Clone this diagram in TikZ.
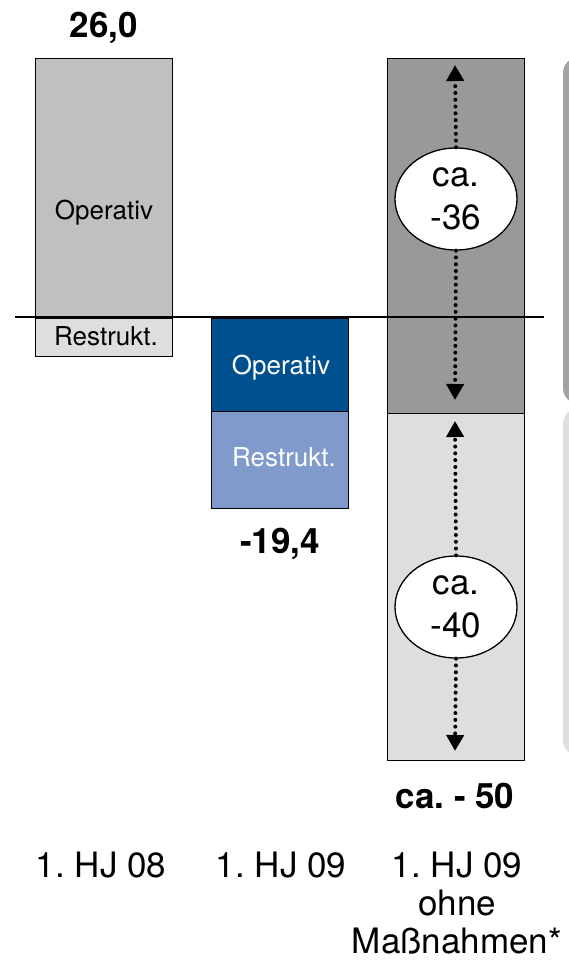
\documentclass[tikz,border=0pt]{standalone}
\usepackage{fontspec}
\setmainfont{TeX Gyre Heros}
\usetikzlibrary{shapes.geometric,arrows.meta}
\frenchspacing

\definecolor{opgrey}{HTML}{C0C0C0}
\definecolor{palegrey}{HTML}{DEDEDE}
\definecolor{opblue}{HTML}{00508F}
\definecolor{restblue}{HTML}{7F9ACB}
\definecolor{darkbar}{HTML}{999999}
\definecolor{tabgrey}{HTML}{A3A3A3}

\begin{document}
\begin{tikzpicture}[x=1pt,y=-1pt,
  barbox/.style={draw=black, line width=1.3pt, rectangle, inner sep=0pt,
    anchor=north west, minimum width=137pt},
  inlabel/.style={font=\fontsize{26}{30}\selectfont, inner sep=0pt},
  bignum/.style={font=\fontsize{35}{40}\selectfont\bfseries, inner sep=0pt, anchor=base},
  axislabel/.style={font=\fontsize{35}{38}\selectfont, inner sep=0pt, align=center, anchor=north},
  bubble/.style={ellipse, draw=black, line width=1.3pt, fill=white, inner sep=0pt,
    minimum width=122pt, minimum height=102pt, align=center,
    font=\fontsize{35}{43}\selectfont},
  dotarrow/.style={line width=4pt, line cap=round, dash pattern=on 0pt off 6.8pt,
    -{Triangle[width=17pt,length=16pt,line cap=butt]}}
]
\useasboundingbox (0,0) rectangle (569,963);
\fill[white] (0,0) rectangle (569,963);

% side tabs, partly cut off at the right edge
\begin{scope}
  \clip (0,0) rectangle (569,963);
  \fill[tabgrey, rounded corners=16pt] (563,57) rectangle (620,404);
  \fill[palegrey, rounded corners=16pt] (563,408) rectangle (620,756);
\end{scope}

% bars
\node[barbox, fill=opgrey,   minimum height=260pt] (b1op) at (35,58) {};
\node[barbox, fill=palegrey, minimum height=38pt]  (b1re) at (35,318) {};
\node[barbox, fill=opblue,   minimum height=93pt]  (b2op) at (211,318) {};
\node[barbox, fill=restblue, minimum height=97pt]  (b2re) at (211,411) {};
\node[barbox, fill=darkbar,  minimum height=355pt] (b3a)  at (387,58) {};
\node[barbox, fill=palegrey, minimum height=347pt] (b3b)  at (387,413) {};

% zero line
\coordinate (zl) at (15,317);
\coordinate (zr) at (544,317);
\draw[line width=1.3pt] (zl) -- (zr);

% labels inside the bars
\node[inlabel] (l1op) at (104,213) {Operativ};
\node[inlabel] (l1re) at (106,336) {Restrukt.};
\node[inlabel, text=white] (l2op) at (281,368) {Operativ};
\node[inlabel, text=white] (l2re) at (284,457) {Restrukt.};

% value labels
\node[bignum] (v1) at (104,38) {26,0};
\node[bignum] (v2) at (280,553) {-19,4};
\node[bignum] (v3) at (455,808) {ca. - 50};

% dotted range arrows with bubbles
\coordinate (a1t) at (455,65);
\coordinate (a1b) at (455,400);
\coordinate (a2t) at (455,421);
\coordinate (a2b) at (455,751);
\node[bubble] (e1) at (456,199) {ca.\\-36};
\node[bubble] (e2) at (456,607) {ca.\\-40};
\draw[dotarrow] (e1.north) -- (a1t);
\draw[dotarrow] (e1.south) -- (a1b);
\draw[dotarrow] (e2.north) -- (a2t);
\draw[dotarrow] (e2.south) -- (a2b);

% period labels
\node[axislabel] (p1) at (101,852) {1. HJ 08};
\node[axislabel] (p2) at (281,852) {1. HJ 09};
\node[axislabel] (p3) at (457,852) {1. HJ 09\\ohne\\Maßnahmen*};
\end{tikzpicture}
\end{document}
